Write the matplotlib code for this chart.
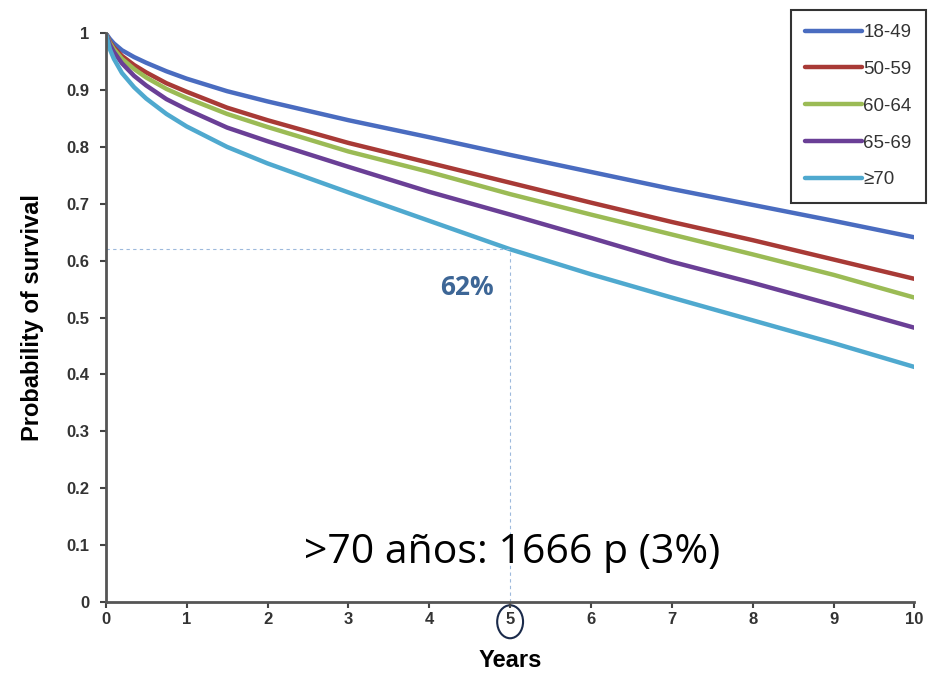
import matplotlib.pyplot as plt
from matplotlib.patches import Ellipse

years = [0, 0.05, 0.1, 0.2, 0.35, 0.5, 0.75, 1, 1.5, 2, 3, 4, 5, 6, 7, 8, 9, 10]
s18_49 = [1.0, 0.99, 0.982, 0.97, 0.958, 0.948, 0.933, 0.92, 0.898, 0.88, 0.847, 0.817, 0.786, 0.756, 0.726, 0.698, 0.67, 0.641]
s50_59 = [1.0, 0.985, 0.975, 0.96, 0.944, 0.931, 0.912, 0.897, 0.869, 0.847, 0.807, 0.772, 0.737, 0.702, 0.668, 0.636, 0.602, 0.568]
s60_64 = [1.0, 0.983, 0.972, 0.955, 0.937, 0.922, 0.902, 0.886, 0.858, 0.835, 0.792, 0.756, 0.717, 0.681, 0.646, 0.611, 0.575, 0.535]
s65_69 = [1.0, 0.98, 0.967, 0.947, 0.925, 0.908, 0.884, 0.866, 0.834, 0.81, 0.765, 0.721, 0.681, 0.64, 0.598, 0.561, 0.522, 0.482]
s70 = [1.0, 0.972, 0.955, 0.93, 0.905, 0.885, 0.858, 0.836, 0.8, 0.771, 0.72, 0.67, 0.62, 0.576, 0.535, 0.495, 0.455, 0.413]

labels = ['18-49', '50-59', '60-64', '65-69', '\u226570']
colors = ['#4a6cc0', '#a83a36', '#9bbb55', '#6a3f96', '#4fa9cf']
series = [s18_49, s50_59, s60_64, s65_69, s70]

plt.rcParams['font.family'] = ['Liberation Sans', 'DejaVu Sans']

fig = plt.figure(figsize=(9.36, 6.77), dpi=100)
ax = fig.add_axes([0.113, 0.111, 0.864, 0.84])

for s, c, l in zip(series, colors, labels):
    ax.plot(years, s, color=c, lw=3.2, label=l, solid_capstyle='round')

# guide lines at 5 years / 62%
ax.plot([0, 5], [0.62, 0.62], color='#9db9dc', lw=0.8, dashes=(3, 3))
ax.plot([5, 5], [0, 0.62], color='#9db9dc', lw=0.8, dashes=(3, 3))
ax.text(4.47, 0.553, '62%', color='#3d6696', fontsize=19, fontweight='bold',
        ha='center', va='center', family=['Open Sans', 'DejaVu Sans'])
ax.text(5.03, 0.087, '>70 a\u00f1os: 1666 p (3%)', fontsize=29.5, ha='center', va='center',
        color='black', family=['Open Sans', 'DejaVu Sans'])

ax.set_xlim(0, 10)
ax.set_ylim(0, 1)
ax.set_xticks(range(0, 11))
ax.set_yticks([i / 10 for i in range(11)])
ax.set_yticklabels(['0', '0.1', '0.2', '0.3', '0.4', '0.5', '0.6', '0.7', '0.8', '0.9', '1'])
ax.tick_params(labelsize=12, colors='#444444', width=1.5, length=4, labelcolor='#333333')
ax.tick_params(axis='y', pad=8)
for lab in ax.get_xticklabels() + ax.get_yticklabels():
    lab.set_fontweight('bold')
for sp in ['top', 'right']:
    ax.spines[sp].set_visible(False)
for sp in ['left', 'bottom']:
    ax.spines[sp].set_color('#555555')
    ax.spines[sp].set_linewidth(2)

ax.set_xlabel('Years', fontsize=17, fontweight='bold', labelpad=16)
ax.set_ylabel('Probability of survival', fontsize=17, fontweight='bold', labelpad=16)

# circle around tick label 5
circ = Ellipse((0.5, -0.035), width=0.032, height=0.058, transform=ax.transAxes,
               fill=False, edgecolor='#1a2a4a', lw=1.5, clip_on=False)
ax.add_patch(circ)

leg = fig.legend(loc='upper right', bbox_to_anchor=(0.999, 0.999), fontsize=13.5,
                 frameon=True, fancybox=False, edgecolor='black', handlelength=3.0,
                 handletextpad=0.1, labelspacing=1.05, borderpad=0.75)
leg.get_frame().set_linewidth(1.5)
for t in leg.get_texts():
    t.set_color('#333333')

fig.savefig('out.png', dpi=100)
